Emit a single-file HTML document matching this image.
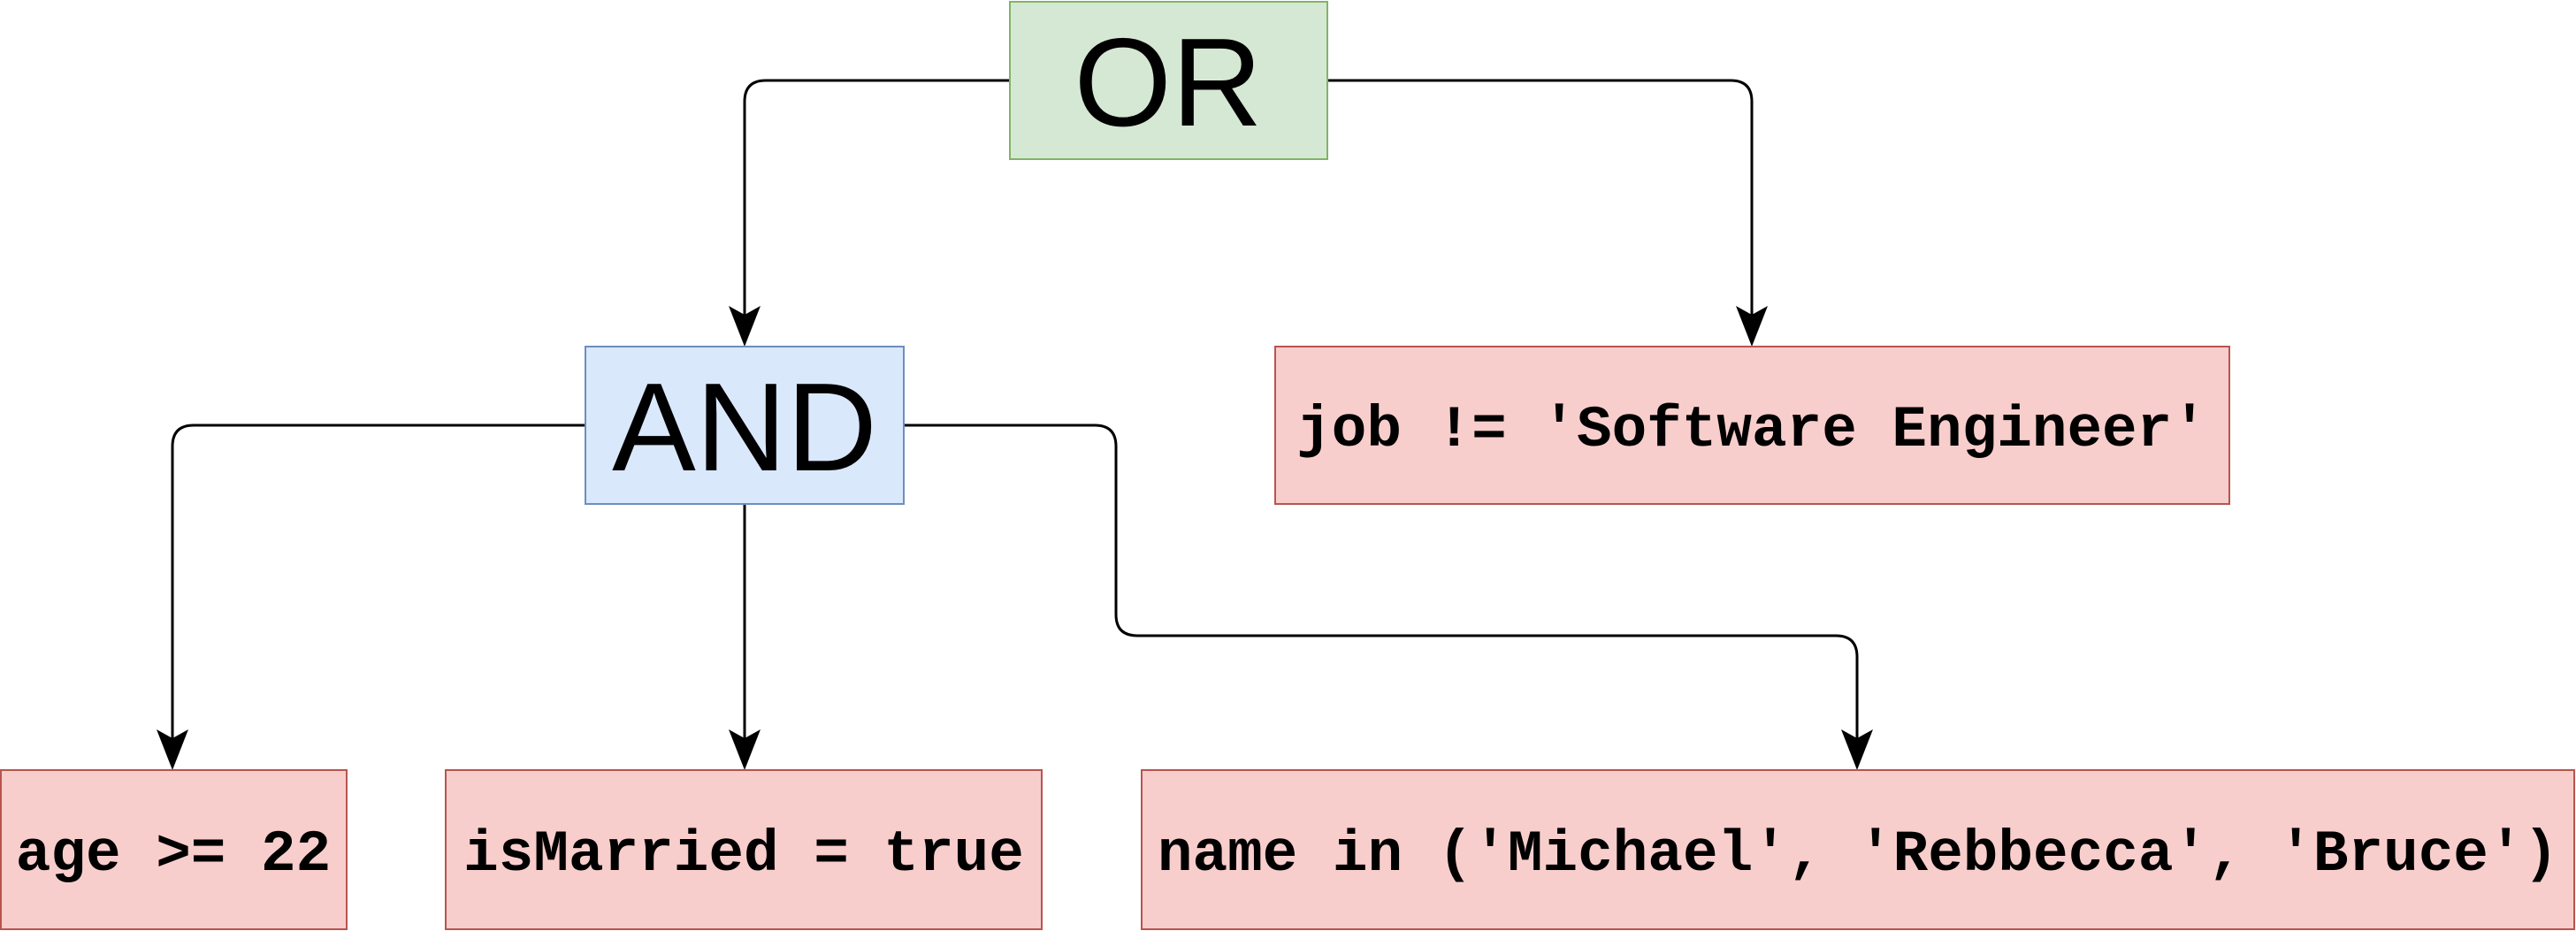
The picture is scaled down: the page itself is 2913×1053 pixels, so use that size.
<!DOCTYPE html>
<html><head><meta charset="utf-8"><style>
html,body{margin:0;padding:0;background:#fff;}
svg{display:block}
</style></head><body>
<svg width="2913" height="1053" viewBox="0 0 2913 1053" xmlns="http://www.w3.org/2000/svg">
<g fill="none" stroke="#000" stroke-width="3">
<path d="M1141 91 H866 Q842 91 842 115 V360"/>
<path d="M1501 91 H1957 Q1981 91 1981 115 V360"/>
<path d="M661 481 H219 Q195 481 195 505 V839"/>
<path d="M842 570 V839"/>
<path d="M1022 481 H1238 Q1262 481 1262 505 V695 Q1262 719 1286 719 H2076 Q2100 719 2100 743 V839"/>
</g>
<g fill="#000">
<path d="M842 392 L824 346 L842 356 L860 346 Z"/>
<path d="M1981 392 L1963 346 L1981 356 L1999 346 Z"/>
<path d="M195 871 L177 825 L195 835 L213 825 Z"/>
<path d="M842 871 L824 825 L842 835 L860 825 Z"/>
<path d="M2100 871 L2082 825 L2100 835 L2118 825 Z"/>
</g>
<rect x="1142" y="2" width="359" height="178" fill="#d5e8d4" stroke="#82b366" stroke-width="2"/>
<rect x="662" y="392" width="360" height="178" fill="#dae8fc" stroke="#6c8ebf" stroke-width="2"/>
<rect x="1442" y="392" width="1079" height="178" fill="#f8cecc" stroke="#b85450" stroke-width="2"/>
<rect x="1" y="871" width="391" height="180" fill="#f8cecc" stroke="#b85450" stroke-width="2"/>
<rect x="504" y="871" width="674" height="180" fill="#f8cecc" stroke="#b85450" stroke-width="2"/>
<rect x="1291" y="871" width="1620" height="180" fill="#f8cecc" stroke="#b85450" stroke-width="2"/>
<g font-family="Liberation Sans, sans-serif" font-size="142" text-anchor="middle" fill="#000">
<text x="1321" y="142">OR</text>
<text x="842" y="532">AND</text>
</g>
<g font-family="'Courier New', 'Liberation Mono', monospace" font-size="66" font-weight="bold" text-anchor="middle" fill="#000">
<text x="1981" y="504">job != 'Software Engineer'</text>
<text x="196" y="984">age &gt;= 22</text>
<text x="841" y="984">isMarried = true</text>
<text x="2101" y="984">name in ('Michael', 'Rebbecca', 'Bruce')</text>
</g>
</svg>
</body></html>
